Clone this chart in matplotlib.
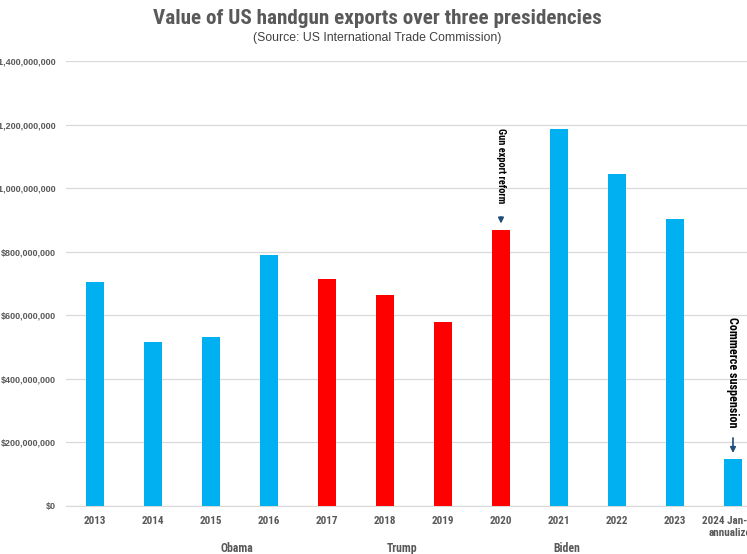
import matplotlib.pyplot as plt
from matplotlib.ticker import FuncFormatter

years = ["2013", "2014", "2015", "2016", "2017", "2018", "2019", "2020",
         "2021", "2022", "2023", "2024 Jan-Nov\nannualized"]
exports = [705e6, 516e6, 532e6, 790e6, 714e6, 664e6, 579e6, 868e6,
           1186e6, 1045e6, 903e6, 148e6]
party = ["D", "D", "D", "D", "R", "R", "R", "R", "D", "D", "D", "D"]
presidents = ["Obama", "Trump", "Biden"]
president_pos = [2.45, 5.29, 8.14]

colors = {"D": "#00B0F0", "R": "#FF0000"}
grey = "#595959"
narrow = ["Roboto Condensed", "Liberation Sans", "DejaVu Sans"]
plain = ["Liberation Sans", "DejaVu Sans"]

fig = plt.figure(figsize=(7.47, 5.54), dpi=100)
ax = fig.add_axes([66 / 747, 48 / 554, 696 / 747, 445 / 554])

x = range(len(years))
ax.bar(x, exports, width=0.32, color=[colors[p] for p in party], zorder=3)

ax.set_xlim(-0.5, len(years) - 0.5)
ax.set_ylim(0, 1.4e9)
ax.set_yticks([i * 200e6 for i in range(8)])
ax.yaxis.set_major_formatter(FuncFormatter(lambda v, p: "${:,.0f}".format(v)))
ax.set_xticks(list(x))
ax.set_xticklabels(years)
ax.grid(axis="y", color="#D9D9D9", linewidth=0.9, zorder=0)
for s in ["top", "right", "left"]:
    ax.spines[s].set_visible(False)
ax.spines["bottom"].set_color("#D9D9D9")
ax.tick_params(axis="both", length=0, colors=grey)
ax.tick_params(axis="y", pad=7)
ax.tick_params(axis="x", pad=7)
for lab in ax.get_yticklabels():
    lab.set_family(plain)
    lab.set_fontweight("bold")
    lab.set_fontsize(6.5)
for lab in ax.get_xticklabels():
    lab.set_family(narrow)
    lab.set_fontweight("bold")
    lab.set_fontsize(8)
    lab.set_linespacing(1.3)

for name, pos in zip(presidents, president_pos):
    ax.text(pos, -0.095, name, transform=ax.get_xaxis_transform(), ha="center",
            va="center", family=narrow, fontweight="bold", fontsize=8.5, color=grey)

# annotations
ax.text(7, 1.189e9, "Gun export reform", rotation=-90, ha="center", va="top",
        family=narrow, fontweight="bold", fontsize=7.5, color="black")
ax.annotate("", xy=(7, exports[7] + 12e6), xytext=(7, exports[7] + 50e6),
            arrowprops=dict(arrowstyle="-|>", color="#1F4E79", lw=1.2, mutation_scale=8))
ax.text(11, 0.595e9, "Commerce suspension", rotation=-90, ha="center", va="top",
        family=narrow, fontweight="bold", fontsize=8.7, color="black")
ax.annotate("", xy=(11, exports[11] + 10e6), xytext=(11, exports[11] + 75e6),
            arrowprops=dict(arrowstyle="-|>", color="#1F4E79", lw=1.2, mutation_scale=8))

fig.text(377 / 747, 1 - 18 / 554, "Value of US handgun exports over three presidencies",
         ha="center", va="center", family=narrow, fontweight="bold", fontsize=15.2, color=grey)
fig.text(377 / 747, 1 - 38 / 554, "(Source: US International Trade Commission)",
         ha="center", va="center", family=plain, fontsize=8.8, color="#404040")

fig.savefig("out.png", dpi=100)
